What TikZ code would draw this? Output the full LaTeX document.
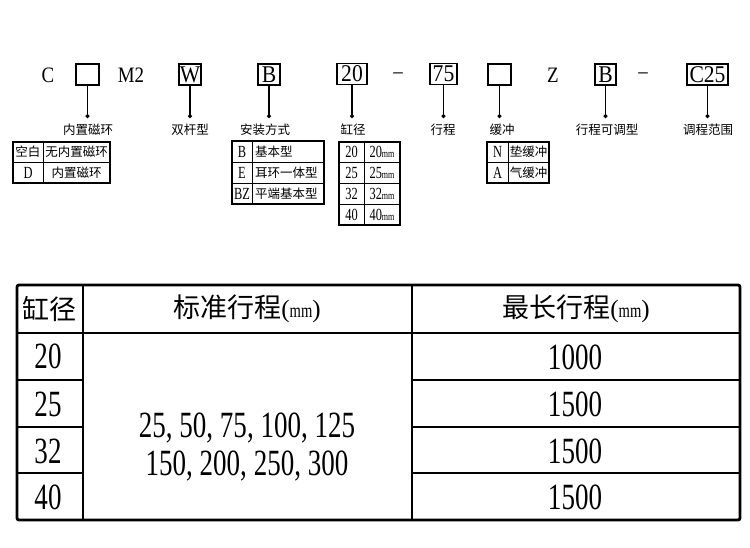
\documentclass[tikz,border=0pt]{standalone}
\usepackage{fontspec}
\setmainfont{Liberation Serif}
\newfontfamily\cjk{Noto Sans CJK SC}
\newfontfamily\cond[FakeStretch=0.73]{Liberation Serif}
\newfontfamily\condA[FakeStretch=0.86]{Liberation Serif}
\newfontfamily\condB[FakeStretch=0.9]{Liberation Serif}
\usetikzlibrary{arrows.meta}
\newcommand{\myfs}[1]{\fontsize{#1}{#1}\selectfont}
\begin{document}
\begin{tikzpicture}[x=1pt,y=-1pt,
  every node/.style={inner sep=0pt, outer sep=0pt},
  codebox/.style={draw, line width=1.8pt, minimum height=21pt, font=\condB\myfs{24}},
  codetxt/.style={font=\condA\myfs{22}},
  conn/.style={line width=1.4pt, -{Circle[length=3.8pt]}},
  lbl/.style={font=\cjk\myfs{12.5}},
  tcj/.style={font=\cjk\myfs{12.5}},
  tlat/.style={font=\cond\myfs{17}},
  tframe/.style={line width=1.8pt},
  tgrid/.style={line width=0.9pt},
  bframe/.style={line width=2.8pt},
  bcj/.style={font=\cjk\myfs{27}},
  bnum/.style={font=\cond\myfs{37}},
]
\fill[white] (0,0) rectangle (750,547);
\useasboundingbox (0,0) rectangle (750,547);

% ---- code row ----
\node[codetxt] (c) at (48,75) {C};
\node[codebox, minimum width=23] (b1) at (87.5,74.5) {};
\node[codetxt] (m2) at (131,75) {M2};
\node[codebox, minimum width=22] (bw) at (190,74.5) {W};
\node[codebox, minimum width=22] (bb) at (269,74.5) {B};
\node[codebox, minimum width=30] (b20) at (352,74) {20};
\node[codetxt] (d1) at (398,76) {–};
\node[codebox, minimum width=27] (b75) at (443.5,74) {75};
\node[codebox, minimum width=23] (bbuf) at (499.5,74.5) {};
\node[codetxt] (z) at (553,75) {Z};
\node[codebox, minimum width=21] (bb2) at (605.5,74.5) {B};
\node[codetxt] (d2) at (643,76) {–};
\node[codebox, minimum width=41] (bc25) at (707.5,74.5) {C25};

% ---- connector ends ----
\coordinate (e1) at (87.5,118);
\coordinate (e2) at (190,118);
\coordinate (e3) at (269,118);
\coordinate (e4) at (352,118);
\coordinate (e5) at (443.5,118);
\coordinate (e6) at (499.5,118);
\coordinate (e7) at (605.5,118);
\coordinate (e8) at (707.5,118);
\draw[conn] (b1.south) -- (e1);
\draw[conn] (bw.south) -- (e2);
\draw[conn] (bb.south) -- (e3);
\draw[conn] (b20.south) -- (e4);
\draw[conn] (b75.south) -- (e5);
\draw[conn] (bbuf.south) -- (e6);
\draw[conn] (bb2.south) -- (e7);
\draw[conn] (bc25.south) -- (e8);

% ---- labels ----
\node[lbl] (l1) at (88,130) {内置磁环};
\node[lbl] (l2) at (190,130) {双杆型};
\node[lbl] (l3) at (265,130) {安装方式};
\node[lbl] (l4) at (353,130) {缸径};
\node[lbl] (l5) at (443,130) {行程};
\node[lbl] (l6) at (502,130) {缓冲};
\node[lbl] (l7) at (607,130) {行程可调型};
\node[lbl] (l8) at (708,130) {调程范围};

% ---- table 1: magnet ----
\draw[tgrid] (13,162) -- (110,162) (43,142) -- (43,183);
\draw[tframe] (13,142) rectangle (110,183);
\node[tcj] (t1a) at (28,152) {空白};
\node[tcj] (t1b) at (76.5,152) {无内置磁环};
\node[tlat] (t1c) at (28,172.5) {D};
\node[tcj] (t1d) at (76.5,172.5) {内置磁环};

% ---- table 2: mounting ----
\draw[tgrid] (232,162) -- (324,162) (232,183) -- (324,183) (252,141) -- (252,204);
\draw[tframe] (232,141) rectangle (324,204);
\node[tlat] (t2a) at (242,151.5) {B};
\node[tlat] (t2b) at (242,172.5) {E};
\node[tlat] (t2c) at (242,193.5) {BZ};
\node[tcj, anchor=west] (t2d) at (255,151.5) {基本型};
\node[tcj, anchor=west] (t2e) at (255,172.5) {耳环一体型};
\node[tcj, anchor=west] (t2f) at (255,193.5) {平端基本型};

% ---- table 3: bore ----
\draw[tgrid] (339,162) -- (400,162) (339,183) -- (400,183) (339,204) -- (400,204) (364,142) -- (364,225);
\draw[tframe] (339,142) rectangle (400,225);
\node[tlat] (t3a) at (351.5,152) {20};
\node[tlat] (t3b) at (351.5,172.5) {25};
\node[tlat] (t3c) at (351.5,193.5) {32};
\node[tlat] (t3d) at (351.5,214.5) {40};
\node[tlat] (t3e) at (382,152) {20{\myfs{11}mm}};
\node[tlat] (t3f) at (382,172.5) {25{\myfs{11}mm}};
\node[tlat] (t3g) at (382,193.5) {32{\myfs{11}mm}};
\node[tlat] (t3h) at (382,214.5) {40{\myfs{11}mm}};

% ---- table 4: cushion ----
\draw[tgrid] (487,162) -- (549,162) (508,142) -- (508,183);
\draw[tframe] (487,142) rectangle (549,183);
\node[tlat] (t4a) at (497.5,152) {N};
\node[tlat] (t4b) at (497.5,172.5) {A};
\node[tcj] (t4c) at (528.5,152) {垫缓冲};
\node[tcj] (t4d) at (528.5,172.5) {气缓冲};

% ---- big table ----
\draw[bframe] (17,333) -- (740,333);
\draw[bframe] (83,285) -- (83,520);
\draw[bframe] (412,285) -- (412,520);
\foreach \yy in {380,427,473} {
  \draw[bframe] (17,\yy) -- (83,\yy);
  \draw[bframe] (412,\yy) -- (740,\yy);
}
\draw[bframe, rounded corners=2pt] (17,285) rectangle (740,520);

\node[bcj] (h1) at (50,309) {缸径};
\node[bcj] (h2) at (247,309) {标准行程{\rmfamily\myfs{25}(}{\cond\myfs{20}mm}{\rmfamily\myfs{25})}};
\node[bcj] (h3) at (576,309) {最长行程{\rmfamily\myfs{25}(}{\cond\myfs{20}mm}{\rmfamily\myfs{25})}};

\node[bnum] (r1) at (48,356) {20};
\node[bnum] (r2) at (48,404) {25};
\node[bnum] (r3) at (48,451) {32};
\node[bnum] (r4) at (48,497) {40};

\node[bnum, anchor=base] (s1) at (247,437) {25, 50, 75, 100, 125};
\node[bnum, anchor=base] (s2) at (247,475) {150, 200, 250, 300};

\node[bnum] (m1) at (575,357) {1000};
\node[bnum] (m2v) at (575,404) {1500};
\node[bnum] (m3v) at (575,451) {1500};
\node[bnum] (m4v) at (575,497) {1500};
\end{tikzpicture}
\end{document}
